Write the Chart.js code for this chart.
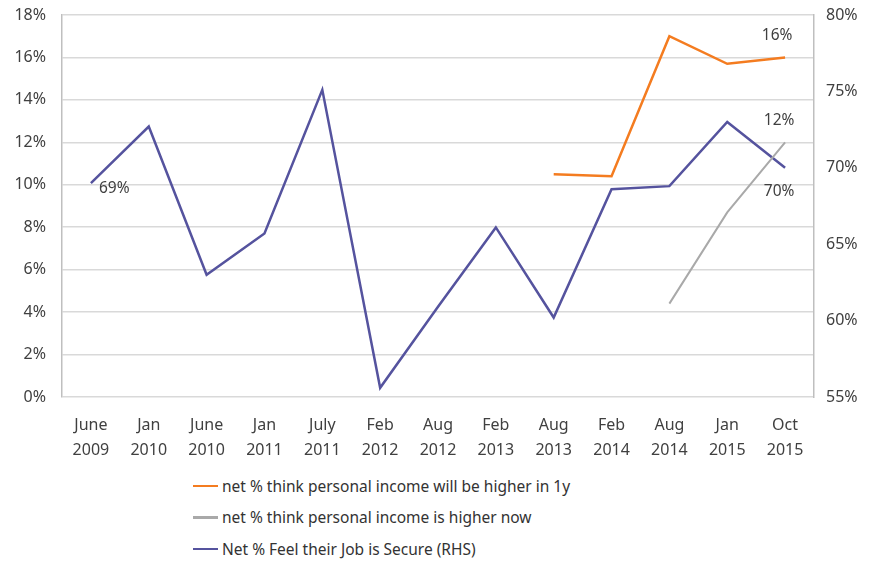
<!DOCTYPE html>
<html>
<head>
<meta charset="utf-8">
<script src="https://cdn.jsdelivr.net/npm/chart.js@4"></script>
<style>
  html, body { margin: 0; padding: 0; background: #fff; }
  #wrap { position: relative; width: 870px; height: 563px; }
  #chart { position: absolute; left: 0; top: 0; }
  #legend { position: absolute; left: 193px; top: 470px; font-family: "Noto Sans", "Open Sans", sans-serif; font-size: 15.5px; color: #333; }
  #legend .item { display: flex; align-items: center; height: 31.5px; }
  #legend .swatch { width: 25px; height: 2.5px; margin-right: 4px; }
</style>
</head>
<body>
<div id="wrap">
  <canvas id="chart" width="870" height="470"></canvas>
  <div id="legend"></div>
</div>
<script>
// Survey dates (two-line axis labels)
const categories = [
  ['June', '2009'], ['Jan', '2010'], ['June', '2010'], ['Jan', '2011'], ['July', '2011'],
  ['Feb', '2012'], ['Aug', '2012'], ['Feb', '2013'], ['Aug', '2013'], ['Feb', '2014'],
  ['Aug', '2014'], ['Jan', '2015'], ['Oct', '2015']
];

// Net % think personal income will be higher in 1y (LHS)
const incomeHigher1y = [null, null, null, null, null, null, null, null, 10.5, 10.4, 17.0, 15.7, 16];
// Net % think personal income is higher now (LHS)
const incomeHigherNow = [null, null, null, null, null, null, null, null, null, null, 4.4, 8.7, 12];
// Net % feel their job is secure (RHS)
const jobSecure = [69, 72.7, 63.0, 65.7, 75.1, 55.6, 60.9, 66.1, 60.2, 68.6, 68.8, 73.0, 70];

const leftTicks = { min: 0, max: 18, step: 2 };
const rightTicks = { min: 55, max: 80, step: 5 };

const FONT = '"Noto Sans", "Open Sans", sans-serif';
const TEXT = '#404040';

// Value labels drawn next to selected points: [datasetIndex, pointIndex, dx, dy, align]
const valueLabels = [
  [2, 0, 8, 5, 'left'],
  [0, 12, -8, -22, 'center'],
  [1, 12, -6, -22, 'center'],
  [2, 12, -6, 24, 'center']
];

const pointLabelPlugin = {
  id: 'pointLabels',
  afterDatasetsDraw(chart) {
    const ctx = chart.ctx;
    ctx.save();
    ctx.font = '15.5px ' + FONT;
    ctx.fillStyle = TEXT;
    ctx.textBaseline = 'middle';
    valueLabels.forEach(([ds, i, dx, dy, align]) => {
      const el = chart.getDatasetMeta(ds).data[i];
      const v = chart.data.datasets[ds].data[i];
      ctx.textAlign = align;
      ctx.fillText(Math.round(v) + '%', el.x + dx, el.y + dy);
    });
    ctx.restore();
  }
};

const htmlLegendPlugin = {
  id: 'htmlLegend',
  afterUpdate(chart) {
    const box = document.getElementById('legend');
    box.innerHTML = '';
    chart.data.datasets.forEach(d => {
      const row = document.createElement('div');
      row.className = 'item';
      const sw = document.createElement('span');
      sw.className = 'swatch';
      sw.style.background = d.borderColor;
      const tx = document.createElement('span');
      tx.textContent = d.label;
      row.appendChild(sw);
      row.appendChild(tx);
      box.appendChild(row);
    });
  }
};

new Chart(document.getElementById('chart'), {
  type: 'line',
  data: {
    labels: categories,
    datasets: [
      { label: 'net % think personal income will be higher in 1y', data: incomeHigher1y, borderColor: '#f47c20', yAxisID: 'y' },
      { label: 'net % think personal income is higher now', data: incomeHigherNow, borderColor: '#a9a9a9', yAxisID: 'y', borderWidth: 2 },
      { label: 'Net % Feel their Job is Secure (RHS)', data: jobSecure, borderColor: '#55539e', yAxisID: 'y1' }
    ]
  },
  options: {
    responsive: false,
    animation: false,
    layout: { padding: { top: 15, left: 0, right: 0, bottom: 0 } },
    elements: {
      line: { borderWidth: 2.5, tension: 0, fill: false },
      point: { radius: 0, hoverRadius: 0 }
    },
    plugins: {
      legend: { display: false },
      tooltip: { enabled: false }
    },
    scales: {
      x: {
        offset: true,
        grid: { display: false, drawTicks: false },
        border: { display: false },
        ticks: { font: { family: FONT, size: 16, lineHeight: 1.55 }, color: TEXT, maxRotation: 0, autoSkip: false, padding: 16 },
        afterFit(s) { s.height = 73; s.paddingLeft = 0; s.paddingRight = 0; }
      },
      y: {
        position: 'left',
        min: leftTicks.min, max: leftTicks.max,
        ticks: { stepSize: leftTicks.step, callback: v => v + '%', font: { family: FONT, size: 16 }, color: TEXT, padding: 16 },
        grid: { color: '#d9d9d9', lineWidth: 1.5, drawTicks: false },
        border: { color: '#bfbfbf', width: 1.5 },
        afterFit(s) { s.width = 62; s.paddingTop = 0; s.paddingBottom = 0; }
      },
      y1: {
        position: 'right',
        min: rightTicks.min, max: rightTicks.max,
        ticks: { stepSize: rightTicks.step, callback: v => v + '%', font: { family: FONT, size: 16 }, color: TEXT, padding: 12 },
        grid: { display: false, drawTicks: false },
        border: { color: '#bfbfbf', width: 1.5 },
        afterFit(s) { s.width = 56; s.paddingTop = 0; s.paddingBottom = 0; }
      }
    }
  },
  plugins: [pointLabelPlugin, htmlLegendPlugin]
});
</script>
</body>
</html>
